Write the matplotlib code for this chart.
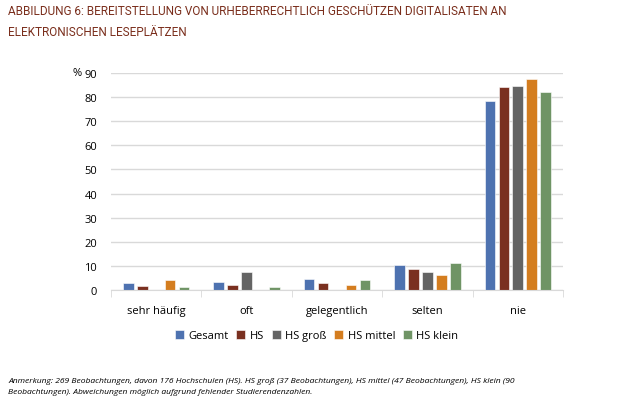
import matplotlib.pyplot as plt
import numpy as np

# Data
categories = ['sehr häufig', 'oft', 'gelegentlich', 'selten', 'nie']
series_names = ['Gesamt', 'HS', 'HS groß', 'HS mittel', 'HS klein']
gesamt = [2.8, 3.2, 4.7, 10.4, 78.5]
hs = [1.5, 2.2, 2.7, 8.9, 84.3]
hs_gross = [0.0, 7.6, 0.0, 7.6, 84.6]
hs_mittel = [4.0, 0.0, 2.0, 6.1, 87.5]
hs_klein = [1.1, 1.1, 4.3, 11.0, 82.1]
colors = ['#4e72b0', '#7a3020', '#646464', '#d47d1f', '#6f9465']

title = ('ABBILDUNG 6: BEREITSTELLUNG VON URHEBERRECHTLICH GESCHÜTZEN DIGITALISATEN AN\n'
         'ELEKTRONISCHEN LESEPLÄTZEN')
note = ('Anmerkung: 269 Beobachtungen, davon 176 Hochschulen (HS). HS groß (37 Beobachtungen), '
        'HS mittel (47 Beobachtungen), HS klein (90\n'
        'Beobachtungen). Abweichungen möglich aufgrund fehlender Studierendenzahlen.')

plt.rcParams['font.family'] = ['Open Sans', 'DejaVu Sans']

fig = plt.figure(figsize=(6.25, 4.06), dpi=100)
ax = fig.add_axes([111 / 625, 1 - 291 / 406, 452 / 625, 217 / 406])

x = np.arange(len(categories))
step = 0.154
width = 0.118
all_series = [gesamt, hs, hs_gross, hs_mittel, hs_klein]
for i, (vals, name, c) in enumerate(zip(all_series, series_names, colors)):
    ax.bar(x + (i - 2) * step, vals, width, color=c, label=name,
           edgecolor='#ffffff', linewidth=0.4)

ax.set_xlim(-0.5, len(categories) - 0.5)
ax.set_ylim(0, 90)
ax.set_yticks(range(0, 91, 10))
ax.yaxis.grid(True, color='#d9d9d9', linewidth=1)
ax.set_axisbelow(True)
for s in ['top', 'right', 'left']:
    ax.spines[s].set_visible(False)
ax.spines['bottom'].set_color('#d9d9d9')
ax.tick_params(axis='y', length=0, labelsize=8, pad=10)
ax.set_xticks(x)
ax.set_xticklabels(categories, fontsize=8)
ax.tick_params(axis='x', length=0, pad=11)
ax.set_xticks(np.arange(-0.5, len(categories), 1), minor=True)
ax.tick_params(axis='x', which='minor', length=5, color='#d9d9d9')

fig.text(77 / 625, 1 - 74 / 406, '%', fontsize=8, ha='center', va='center')

ax.legend(loc='center', bbox_to_anchor=(0.455, -0.21), ncol=5, frameon=False,
          fontsize=8, handlelength=0.8, handleheight=0.8, handletextpad=0.4,
          columnspacing=0.7)

fig.text(8 / 625, 1 - 5 / 406, title, fontsize=8.5, color='#7a2e1c',
         family=['Roboto', 'DejaVu Sans'], va='top',
         linespacing=1.85, ha='left')
fig.text(8 / 625, 1 - 387 / 406, note, fontsize=6.1, style='italic',
         ha='left', va='center', linespacing=1.75)

fig.savefig('out.png', dpi=100)
